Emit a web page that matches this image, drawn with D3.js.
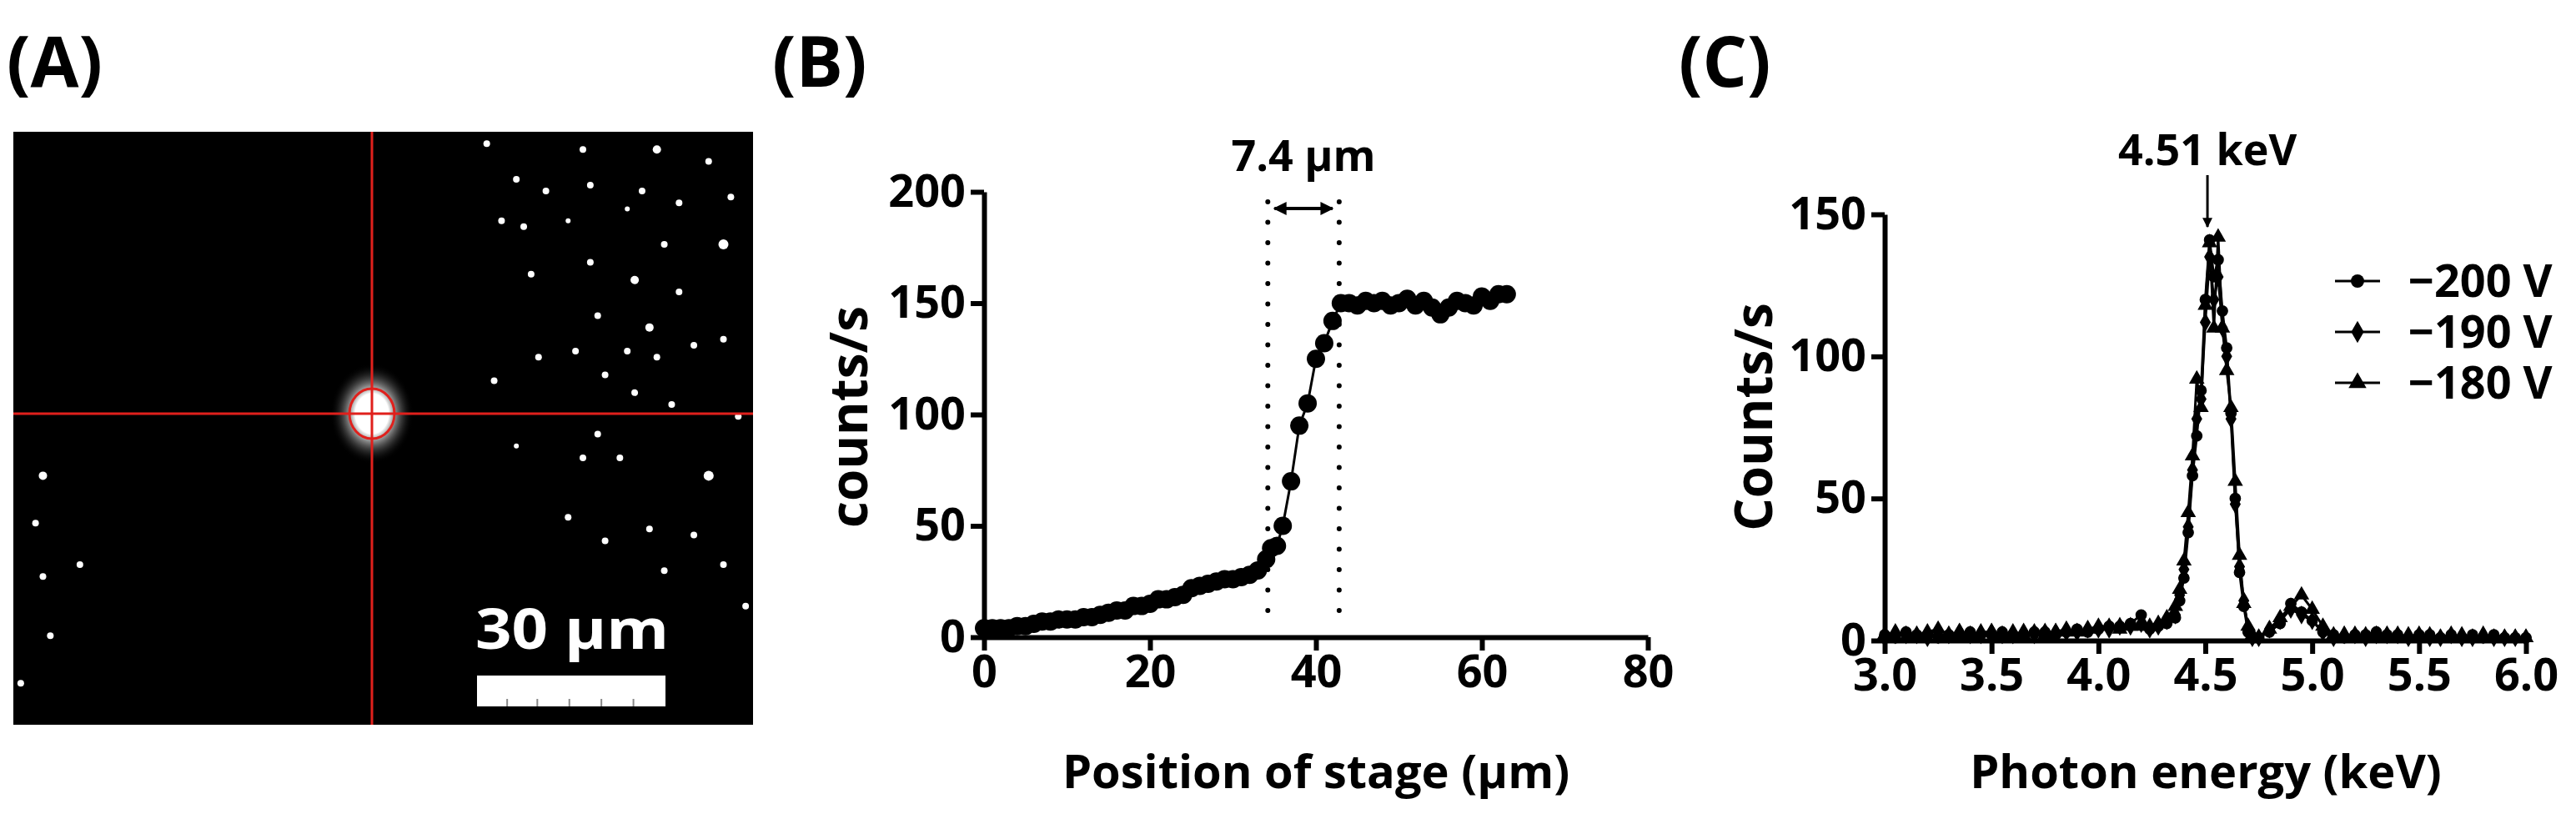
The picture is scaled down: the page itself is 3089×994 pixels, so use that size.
<!DOCTYPE html>
<html>
<head>
<meta charset="utf-8">
<script src="https://cdn.jsdelivr.net/npm/d3@7"></script>
<style>
  body { margin: 0; background: #fff; }
  text { font-family: "Open Sans", "DejaVu Sans", sans-serif; font-weight: bold; }
</style>
</head>
<body>
<div id="chart"></div>
<script>
// panel A: bright spots in the camera image (fractions of image width/height, radius px)
const spotX = [0.64,0.77,0.87,0.94,0.68,0.72,0.78,0.85,0.90,0.97,0.66,0.69,0.75,0.83,0.88,0.96,0.70,0.78,0.84,0.90,0.79,0.86,0.96,0.71,0.76,0.83,0.87,0.92,0.65,0.80,0.84,0.89,0.98,0.79,0.82,0.77,0.94,0.75,0.80,0.86,0.92,0.88,0.96,0.04,0.03,0.09,0.04,0.05,0.01,0.68,0.99];
const spotY = [0.02,0.03,0.03,0.05,0.08,0.10,0.09,0.10,0.12,0.11,0.15,0.16,0.15,0.13,0.19,0.19,0.24,0.22,0.25,0.27,0.31,0.33,0.35,0.38,0.37,0.37,0.38,0.36,0.42,0.41,0.44,0.46,0.48,0.51,0.55,0.55,0.58,0.65,0.69,0.67,0.68,0.74,0.73,0.58,0.66,0.73,0.75,0.85,0.93,0.53,0.80];
const spotR = [4,4,5,4,4,4,4,4,4,4,4,4,3,3,4,6,4,4,5,4,4,5,4,4,4,4,4,4,4,4,4,4,4,4,4,4,6,4,4,4,4,4,4,5,4,4,4,4,4,3,4];

// panel B: knife-edge scan
const stagePos = [0,1,2,3,4,5,6,7,8,9,10,11,12,13,14,15,16,17,18,19,20,21,22,23,24,25,26,27,28,29,30,31,32,33,34,34.6,35.3,36,37,38,39,40,41,42,43,44,45,46,47,48,49,50,51,52,53,54,55,56,57,58,59,60,61,62,63];
const stageCounts = [4,4,4,4,5,5,6,7,7,8,8,8,9,9,10,11,12,12,14,14,15,17,17,18,19,22,23,24,25,26,26,27,28,30,35,40,41,50,70,95,105,125,132,142,150,150,149,151,150,151,149,150,152,149,151,148,145,148,151,150,149,153,151,154,154];
const edgeLeft = 34.2, edgeRight = 42.8;

// panel C: spectra
const energy = [3.00,3.05,3.10,3.15,3.20,3.25,3.30,3.35,3.40,3.45,3.50,3.55,3.60,3.65,3.70,3.75,3.80,3.85,3.90,3.95,4.00,4.05,4.10,4.15,4.20,4.24,4.28,4.32,4.36,4.38,4.40,4.42,4.44,4.46,4.48,4.50,4.52,4.54,4.56,4.58,4.60,4.62,4.64,4.66,4.68,4.70,4.72,4.75,4.80,4.85,4.90,4.95,5.00,5.05,5.10,5.15,5.20,5.25,5.30,5.35,5.40,5.45,5.50,5.55,5.60,5.65,5.70,5.75,5.80,5.85,5.90,5.95,6.00];
const v200 = [2,1,3,2,2,1,2,2,3,2,2,3,2,2,3,3,2,3,4,3,4,5,5,6,9,4,5,6,8,14,22,38,58,72,88,120,141,128,134,116,103,80,50,24,12,3,1,1,3,6,13,10,7,3,2,1,2,2,3,2,2,1,2,2,1,2,1,2,1,2,1,1,1];
const v190 = [1,2,2,2,1,2,2,3,2,2,3,2,2,3,2,3,3,3,3,4,4,4,5,5,6,4,5,7,9,16,25,40,60,78,85,112,135,120,128,110,100,78,48,26,14,4,1,1,4,7,11,9,7,3,1,2,2,1,2,2,2,1,2,1,1,2,1,1,2,1,1,1,1];
const v180 = [2,3,1,2,3,4,2,3,2,3,3,2,3,2,3,2,3,4,3,4,5,5,4,5,5,5,6,8,12,18,28,45,65,92,82,118,140,110,142,110,95,82,56,30,13,5,2,1,4,8,12,16,11,5,2,2,1,2,2,2,1,2,1,2,1,1,2,1,1,1,1,1,1];
const seriesNames = ['\u2212200 V', '\u2212190 V', '\u2212180 V'];
const peakEnergy = 4.51;

const W = 3089, H = 994;
const svg = d3.select('#chart').append('svg').attr('width', W).attr('height', H);
const defs = svg.append('defs');

// panel labels
[['(A)', 8], ['(B)', 926], ['(C)', 2013]].forEach(([t, x]) => {
  svg.append('text').attr('x', x).attr('y', 104).attr('font-size', 84).text(t);
});

// ---- panel A ----
const ax0 = 16, ay0 = 158, aw = 887, ah = 711;
const gA = svg.append('g');
gA.append('rect').attr('x', ax0).attr('y', ay0).attr('width', aw).attr('height', ah).attr('fill', '#000');
gA.selectAll('circle.spot').data(spotX).enter().append('circle')
  .attr('class', 'spot')
  .attr('cx', (d) => ax0 + d * aw)
  .attr('cy', (d, i) => ay0 + spotY[i] * ah)
  .attr('r', (d, i) => spotR[i])
  .attr('fill', '#fff');
const cx = 446, cy = 496;
const glow = defs.append('radialGradient').attr('id', 'glow');
glow.append('stop').attr('offset', '0%').attr('stop-color', '#fff');
glow.append('stop').attr('offset', '40%').attr('stop-color', '#fff');
glow.append('stop').attr('offset', '100%').attr('stop-color', '#000').attr('stop-opacity', 0);
gA.append('ellipse').attr('cx', cx).attr('cy', cy).attr('rx', 50).attr('ry', 60).attr('fill', 'url(#glow)');
gA.append('line').attr('x1', cx).attr('x2', cx).attr('y1', ay0).attr('y2', ay0 + ah).attr('stroke', '#e0201c').attr('stroke-width', 3);
gA.append('line').attr('x1', ax0).attr('x2', ax0 + aw).attr('y1', cy).attr('y2', cy).attr('stroke', '#e0201c').attr('stroke-width', 3);
gA.append('ellipse').attr('cx', cx).attr('cy', cy).attr('rx', 27).attr('ry', 30).attr('fill', 'none').attr('stroke', '#e0201c').attr('stroke-width', 3);
gA.append('text').attr('x', 570).attr('y', 778).attr('font-size', 66).attr('fill', '#fff')
  .attr('font-family', 'Liberation Sans, Arial').attr('textLength', 232).attr('lengthAdjust', 'spacingAndGlyphs').text('30 \u00b5m');
gA.append('rect').attr('x', 572).attr('y', 810).attr('width', 226).attr('height', 37).attr('fill', '#fff');
[0.16, 0.32, 0.49, 0.66, 0.83].forEach((f) => {
  gA.append('line').attr('x1', 572 + 226 * f).attr('x2', 572 + 226 * f).attr('y1', 838).attr('y2', 847).attr('stroke', '#888').attr('stroke-width', 2);
});

function styleAxis(g) {
  g.selectAll('path, line').attr('stroke', '#000').attr('stroke-width', 6);
  g.selectAll('text').attr('font-size', 54).attr('fill', '#000');
}

// ---- panel B ----
const xB = d3.scaleLinear().domain([0, 80]).range([1180, 1976]);
const yB = d3.scaleLinear().domain([0, 200]).range([764, 230]);
svg.append('g').attr('transform', 'translate(0,764)')
  .call(d3.axisBottom(xB).tickValues([0, 20, 40, 60, 80]).tickSize(16).tickSizeOuter(0).tickPadding(6))
  .call(styleAxis);
svg.append('g').attr('transform', 'translate(1180,0)')
  .call(d3.axisLeft(yB).tickValues([0, 50, 100, 150, 200]).tickSize(16).tickSizeOuter(0).tickPadding(6))
  .call(styleAxis);
[edgeLeft, edgeRight].forEach((e) => {
  svg.append('line').attr('x1', xB(e)).attr('x2', xB(e)).attr('y1', 242).attr('y2', 752)
    .attr('stroke', '#000').attr('stroke-width', 6).attr('stroke-dasharray', '0 24.5').attr('stroke-linecap', 'round');
});
defs.append('marker').attr('id', 'ah').attr('viewBox', '0 0 10 10').attr('refX', 9).attr('refY', 5)
  .attr('markerWidth', 4).attr('markerHeight', 4).attr('orient', 'auto-start-reverse')
  .append('path').attr('d', 'M0,0L10,5L0,10z').attr('fill', '#000');
svg.append('line').attr('x1', xB(edgeLeft) + 8).attr('x2', xB(edgeRight) - 8).attr('y1', 250).attr('y2', 250)
  .attr('stroke', '#000').attr('stroke-width', 4).attr('marker-start', 'url(#ah)').attr('marker-end', 'url(#ah)');
svg.append('text').attr('x', (xB(edgeLeft) + xB(edgeRight)) / 2).attr('y', 205).attr('text-anchor', 'middle')
  .attr('font-size', 52).text('7.4 \u00b5m');
svg.append('path').datum(stagePos)
  .attr('d', d3.line().x((d) => xB(d)).y((d, i) => yB(stageCounts[i])))
  .attr('fill', 'none').attr('stroke', '#000').attr('stroke-width', 3);
svg.selectAll('circle.pb').data(stagePos).enter().append('circle').attr('class', 'pb')
  .attr('cx', (d) => xB(d)).attr('cy', (d, i) => yB(stageCounts[i])).attr('r', 11).attr('fill', '#000');
svg.append('text').attr('x', 1578).attr('y', 945).attr('text-anchor', 'middle').attr('font-size', 56).text('Position of stage (\u00b5m)');
svg.append('text').attr('transform', 'translate(1040,500) rotate(-90)').attr('text-anchor', 'middle').attr('font-size', 62).text('counts/s');

// ---- panel C ----
const xC = d3.scaleLinear().domain([3, 6]).range([2260, 3029]);
const yC = d3.scaleLinear().domain([0, 150]).range([768, 257]);
svg.append('g').attr('transform', 'translate(0,768)')
  .call(d3.axisBottom(xC).tickValues([3, 3.5, 4, 4.5, 5, 5.5, 6]).tickFormat(d3.format('.1f')).tickSize(16).tickSizeOuter(0).tickPadding(6))
  .call(styleAxis);
svg.append('g').attr('transform', 'translate(2260,0)')
  .call(d3.axisLeft(yC).tickValues([0, 50, 100, 150]).tickSize(16).tickSizeOuter(0).tickPadding(6))
  .call(styleAxis);

const symbols = [d3.symbolCircle, d3.symbolDiamond, d3.symbolTriangle];
const allSeries = [v200, v190, v180];
allSeries.forEach((vals, s) => {
  svg.append('path').datum(energy)
    .attr('d', d3.line().x((d) => xC(d)).y((d, i) => yC(vals[i])))
    .attr('fill', 'none').attr('stroke', '#000').attr('stroke-width', 3);
  svg.selectAll('path.m' + s).data(energy).enter().append('path').attr('class', 'm' + s)
    .attr('transform', (d, i) => `translate(${xC(d)},${yC(vals[i])})`)
    .attr('d', d3.symbol().type(symbols[s]).size(150)).attr('fill', '#000');
});
// legend
seriesNames.forEach((n, i) => {
  const y = 337 + i * 61;
  svg.append('line').attr('x1', 2800).attr('x2', 2854).attr('y1', y).attr('y2', y).attr('stroke', '#000').attr('stroke-width', 3);
  svg.append('path').attr('transform', `translate(2827,${y})`).attr('d', d3.symbol().type(symbols[i]).size(200)).attr('fill', '#000');
  svg.append('text').attr('x', 2888).attr('y', y + 19).attr('font-size', 54).text(n);
});
svg.append('text').attr('x', xC(peakEnergy)).attr('y', 198).attr('text-anchor', 'middle').attr('font-size', 52)
  .text(peakEnergy + ' keV');
svg.append('line').attr('x1', xC(peakEnergy)).attr('x2', xC(peakEnergy)).attr('y1', 210).attr('y2', 272)
  .attr('stroke', '#000').attr('stroke-width', 3).attr('marker-end', 'url(#ah)');
svg.append('text').attr('x', 2645).attr('y', 945).attr('text-anchor', 'middle').attr('font-size', 56).text('Photon energy (keV)');
svg.append('text').attr('transform', 'translate(2125,500) rotate(-90)').attr('text-anchor', 'middle').attr('font-size', 62).text('Counts/s');
</script>
</body>
</html>
